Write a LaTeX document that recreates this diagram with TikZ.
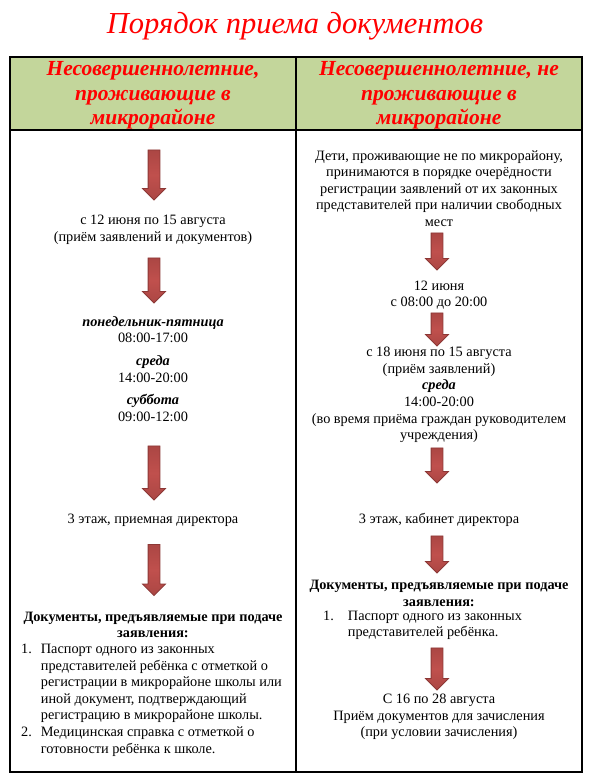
\documentclass[tikz,border=0pt]{standalone}
\usepackage{fontspec}
\setmainfont{Liberation Serif}
\usetikzlibrary{shapes.arrows}
\definecolor{hdrgreen}{HTML}{C3D69B}
\definecolor{arrred}{HTML}{C0504D}
\definecolor{arrdark}{HTML}{8C3836}
\tikzset{
	downarrow/.style={single arrow, rotate=-90, draw=arrdark, line width=0.8pt,
		top color=arrdark!40!arrred, bottom color=arrdark!40!arrred, middle color=arrred,
		inner sep=5.5pt, minimum width=22pt, single arrow head extend=5.5pt},
	body/.style={align=center, font=\fontsize{14.3}{16.6}\selectfont, inner sep=0pt},
	hdr/.style={align=center, text=red, font=\fontsize{21.5}{24.5}\selectfont\bfseries\itshape},
}
\begin{document}
\begin{tikzpicture}[x=1pt, y=-1pt]
	\useasboundingbox (0,0) rectangle (590,779);
	\node[text=red, font=\fontsize{30.5}{34}\selectfont\itshape] (title) at (295,26) {Порядок приема документов};

	\fill[hdrgreen] (10,57) rectangle (582,130);
	\draw[line width=1.3pt] (10,57) rectangle (582,772);
	\draw[line width=1.3pt] (10,130) -- (582,130);
	\draw[line width=1.3pt] (296,57) -- (296,772);
	\node[hdr] (hdrL) at (153,95.5) {Несовершеннолетние,\\проживающие в\\микрорайоне};
	\node[hdr] (hdrR) at (439,95.5) {Несовершеннолетние, не\\проживающие в\\микрорайоне};

	\node[body] (tL1) at (153,230) {с 12 июня по 15 августа\\(приём заявлений и документов)};
	\node[body] (tL2) at (153,369) {\textbf{\textit{понедельник-пятница}}\\08:00-17:00\\[6pt]\textbf{\textit{среда}}\\14:00-20:00\\[6pt]\textbf{\textit{суббота}}\\09:00-12:00};
	\node[body] (tL3) at (153,520) {3 этаж, приемная директора};
	\node[body] (docL) at (153,625) {\textbf{Документы, предъявляемые при подаче}\\\textbf{заявления:}};
	\node[body, anchor=west] (listL) at (21,700) {\begin{tabular}{@{}r@{\hspace{9pt}}l@{}}
		1. & Паспорт одного из законных\\
		& представителей ребёнка с отметкой о\\
		& регистрации в микрорайоне школы или\\
		& иной документ, подтверждающий\\
		& регистрацию в микрорайоне школы.\\
		2. & Медицинская справка с отметкой о\\
		& готовности ребёнка к школе.
	\end{tabular}};

	\node[body] (tR1) at (439,188.5) {Дети, проживающие не по микрорайону,\\принимаются в порядке очерёдности\\регистрации заявлений от их законных\\представителей при наличии свободных\\мест};
	\node[body] (tR2) at (439,295) {12 июня\\с 08:00 до 20:00};
	\node[body] (tR3) at (439,395) {с 18 июня по 15 августа\\(приём заявлений)\\\textbf{\textit{среда}}\\14:00-20:00\\(во время приёма граждан руководителем\\учреждения)};
	\node[body] (tR4) at (439,520) {3 этаж, кабинет директора};
	\node[body] (docR) at (439,593.5) {\textbf{Документы, предъявляемые при подаче}\\\textbf{заявления:}};
	\node[body, anchor=west] (listR) at (323,625) {\begin{tabular}{@{}r@{\hspace{14pt}}l@{}}
		1. & Паспорт одного из законных\\
		& представителей ребёнка.
	\end{tabular}};
	\node[body] (tR6) at (439,717) {С 16 по 28 августа\\Приём документов для зачисления\\(при условии зачисления)};

	\node[downarrow, minimum height=50pt] (aL1) at (154,172) {};
	\node[downarrow, minimum height=45pt] (aL2) at (154,277.5) {};
	\node[downarrow, minimum height=54pt] (aL3) at (154,470) {};
	\node[downarrow, minimum height=51pt] (aL4) at (154,567) {};
	\node[downarrow, minimum height=37pt] (aR1) at (437,248.5) {};
	\node[downarrow, minimum height=33pt] (aR2) at (437,326.5) {};
	\node[downarrow, minimum height=35pt] (aR3) at (437,462.5) {};
	\node[downarrow, minimum height=37pt] (aR4) at (437,551.5) {};
	\node[downarrow, minimum height=42pt] (aR5) at (437,666) {};
\end{tikzpicture}
\end{document}
